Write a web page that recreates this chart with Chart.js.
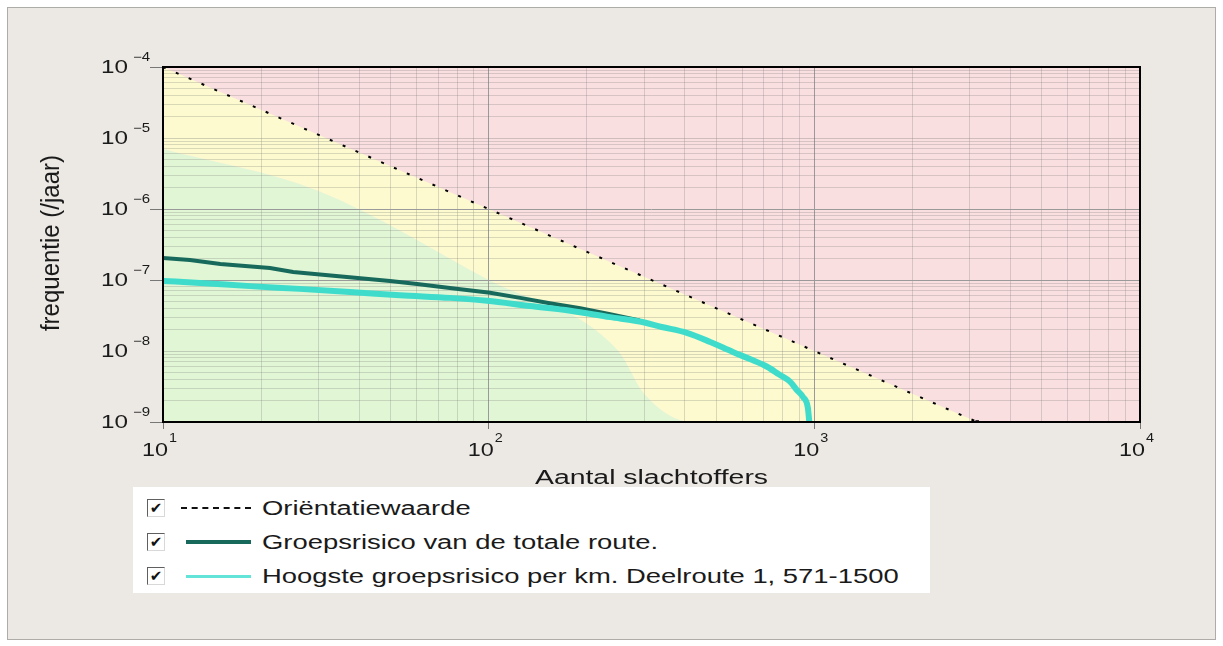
<!DOCTYPE html>
<html>
<head>
<meta charset="utf-8">
<script src="https://cdn.jsdelivr.net/npm/chart.js@4.4.1/dist/chart.umd.min.js"></script>
<style>
html,body{margin:0;padding:0;background:#fff;}
#wrap{position:relative;width:1223px;height:646px;overflow:hidden;background:#fff;}
#panel{position:absolute;left:7px;top:7px;width:1209px;height:633px;background:#ece9e4;border:1px solid #aeaca8;box-sizing:border-box;}
#c{position:absolute;left:0;top:0;}
#legend{position:absolute;left:133px;top:487px;width:797px;height:106px;background:#fff;font-family:"Liberation Sans",Arial,sans-serif;color:#1a1a1a;}
.row{position:absolute;left:0;width:100%;height:34px;}
.cb{position:absolute;left:14px;top:8px;width:18px;height:18px;box-sizing:border-box;border:1px solid;border-color:#5f5f5f #d8d8d8 #d8d8d8 #5f5f5f;background:#fff;font-family:"DejaVu Sans",sans-serif;font-size:15px;line-height:16px;text-align:center;color:#111;font-weight:bold;}
.dash{position:absolute;left:48px;top:16px;width:70px;height:0;border-top:2px dashed #111;}
.solid{position:absolute;left:53px;width:65px;}
.txt{position:absolute;left:129px;top:5px;font-size:20px;line-height:24px;white-space:nowrap;transform:scaleX(1.37);transform-origin:0 50%;}
</style>
</head>
<body>
<div id="wrap">
  <div id="panel"></div>
  <canvas id="c" width="1223" height="646"></canvas>
  <div id="legend"></div>
</div>
<script>
// ---------- data ----------
const xTickExps = ['1', '2', '3', '4'];
const yTickExps = ['-4', '-5', '-6', '-7', '-8', '-9'];
const xTitle = 'Aantal slachtoffers';
const yTitle = 'frequentie (/jaar)';
const legendLabels = ['Oriëntatiewaarde', 'Groepsrisico van de totale route.', 'Hoogste groepsrisico per km. Deelroute 1, 571-1500'];

// orientation value line (Oriëntatiewaarde)
const orientN = [10, 3162.3];
const orientF = [1e-4, 1e-9];
// zone boundaries
const redBoundN = [10, 3162.3, 10000];
const redBoundF = [1e-4, 1e-9, 1e-9];
const greenBoundN = [10, 30, 100, 250, 300, 420, 10000];
const greenBoundF = [7e-6, 1.8e-6, 1e-7, 1e-8, 2.5e-9, 1e-9, 1e-9];

// Groepsrisico van de totale route
const totalN = [10, 12.1, 15.0, 21.3, 25.1, 36.7, 49.8, 60.3, 76.0, 101, 125, 154, 191, 236, 291];
const totalF = [2.04e-7, 1.91e-7, 1.68e-7, 1.48e-7, 1.30e-7, 1.10e-7, 9.7e-8, 8.8e-8, 7.7e-8, 6.6e-8, 5.6e-8, 4.7e-8, 4.0e-8, 3.3e-8, 2.7e-8];

// Hoogste groepsrisico per km
const kmN = [10, 13.0, 18.5, 26.3, 37.5, 53.4, 76.0, 99, 134, 178, 236, 291, 340, 406, 479, 562, 634, 716, 778, 842, 885, 923, 955, 965];
const kmF = [9.7e-8, 9.1e-8, 8.2e-8, 7.5e-8, 6.8e-8, 6.1e-8, 5.6e-8, 5.1e-8, 4.3e-8, 3.7e-8, 3.0e-8, 2.6e-8, 2.18e-8, 1.8e-8, 1.34e-8, 9.7e-9, 7.7e-9, 6.0e-9, 4.7e-9, 3.7e-9, 2.8e-9, 2.25e-9, 1.6e-9, 1.0e-9];

const COL_RED = '#fadfe0', COL_YEL = '#fcface', COL_GRN = '#e0f6d5';
const COL_DARK = '#17695c', COL_CYAN = '#3fdccc';

const pts = (xs, ys) => xs.map((v, i) => ({x: v, y: ys[i]}));

function logTicks(e0, e1) {
  const t = [];
  for (let e = e0; e < e1; e++) {
    for (let m = 1; m <= 9; m++) t.push({value: m * Math.pow(10, e), major: m === 1});
  }
  t.push({value: Math.pow(10, e1), major: true});
  return t;
}
function decadeOf(v) {
  const l = Math.log10(v);
  return Math.abs(l - Math.round(l)) < 1e-6 ? Math.round(l) : null;
}

// ---------- legend (HTML) ----------
(function () {
  const lg = document.getElementById('legend');
  const tops = [4, 38, 72];
  legendLabels.forEach((lab, i) => {
    const r = document.createElement('div');
    r.className = 'row';
    r.style.top = tops[i] + 'px';
    let sample;
    if (i === 0) sample = '<div class="dash"></div>';
    else if (i === 1) sample = '<div class="solid" style="top:15px;height:4px;background:' + COL_DARK + '"></div>';
    else sample = '<div class="solid" style="top:16px;height:3px;background:#62e4d8"></div>';
    r.innerHTML = '<div class="cb">✔</div>' + sample + '<div class="txt"></div>';
    r.querySelector('.txt').textContent = lab;
    lg.appendChild(r);
  });
})();

// ---------- text / frame plugin ----------
function drawStretched(ctx, text, x, y, align, font, sx) {
  ctx.save();
  ctx.translate(x, y);
  ctx.scale(sx, 1);
  ctx.font = font;
  ctx.textAlign = align;
  ctx.textBaseline = 'middle';
  ctx.fillText(text, 0, 0);
  ctx.restore();
}
const FONT = '"Liberation Sans", Arial, sans-serif';
const decor = {
  id: 'decor',
  afterDraw(chart) {
    const {ctx, chartArea: a, scales: {x, y}} = chart;
    ctx.save();
    ctx.strokeStyle = '#000';
    ctx.lineWidth = 2;
    ctx.strokeRect(a.left, a.top, a.right - a.left, a.bottom - a.top);
    ctx.fillStyle = '#1a1a1a';
    yTickExps.forEach(e => {
      const py = y.getPixelForValue(Math.pow(10, Number(e)));
      drawStretched(ctx, '10', 128, py + 1, 'right', '18px ' + FONT, 1.35);
      drawStretched(ctx, e.replace('-', '−'), 133, py - 9, 'left', '12px ' + FONT, 1.25);
    });
    xTickExps.forEach(e => {
      const px = x.getPixelForValue(Math.pow(10, Number(e)));
      drawStretched(ctx, '10', px + 5, 451, 'right', '18px ' + FONT, 1.3);
      drawStretched(ctx, e, px + 6, 439, 'left', '12px ' + FONT, 1.2);
    });
    drawStretched(ctx, xTitle, (a.left + a.right) / 2, 478, 'center', '20px ' + FONT, 1.42);
    ctx.save();
    ctx.translate(52, 243);
    ctx.rotate(-Math.PI / 2);
    ctx.scale(1.2, 1.3);
    ctx.font = '20px ' + FONT;
    ctx.textAlign = 'center';
    ctx.textBaseline = 'middle';
    ctx.fillText(yTitle, 0, 0);
    ctx.restore();
    ctx.restore();
  }
};

// ---------- chart ----------
new Chart(document.getElementById('c'), {
  type: 'line',
  data: {
    datasets: [
      {label: legendLabels[2], data: pts(kmN, kmF), borderColor: COL_CYAN, borderWidth: 6, pointRadius: 0, fill: false, cubicInterpolationMode: 'monotone'},
      {label: legendLabels[1], data: pts(totalN, totalF), borderColor: COL_DARK, borderWidth: 4, pointRadius: 0, fill: false, tension: 0},
      {label: legendLabels[0], data: pts(orientN, orientF), borderColor: '#000', borderWidth: 2, borderDash: [3, 11], pointRadius: 2.5, pointStyle: 'rect', pointBackgroundColor: '#000', pointBorderWidth: 0, fill: false},
      {label: 'red', data: pts(redBoundN, redBoundF), borderColor: 'transparent', borderWidth: 0, pointRadius: 0, fill: 'end', backgroundColor: COL_RED},
      {label: 'yellow', data: pts(greenBoundN, greenBoundF), borderColor: 'transparent', borderWidth: 0, pointRadius: 0, fill: 'end', backgroundColor: COL_YEL, cubicInterpolationMode: 'monotone'},
      {label: 'green', data: pts(greenBoundN, greenBoundF), borderColor: 'transparent', borderWidth: 0, pointRadius: 0, fill: 'start', backgroundColor: COL_GRN, cubicInterpolationMode: 'monotone'}
    ]
  },
  options: {
    responsive: false,
    animation: false,
    devicePixelRatio: 1,
    layout: {padding: {left: 0, top: 67, right: 83, bottom: 212}},
    plugins: {legend: {display: false}, tooltip: {enabled: false}, filler: {drawTime: 'beforeDraw'}},
    scales: {
      x: {
        type: 'logarithmic', min: 10, max: 10000,
        afterBuildTicks: s => { s.ticks = logTicks(1, 4); },
        afterFit: s => { s.height = 12; },
        ticks: {display: false, autoSkip: false},
        border: {display: false},
        grid: {
          drawTicks: true, tickLength: 7,
          color: c => {
            if (!c.tick) return 'rgba(0,0,0,0)';
            const d = decadeOf(c.tick.value);
            if (d === null) return 'rgba(110,110,110,0.24)';
            return (d === 2 || d === 3) ? '#9a9a9a' : 'rgba(0,0,0,0)';
          },
          tickColor: c => (c.tick && decadeOf(c.tick.value) !== null) ? '#777' : 'rgba(0,0,0,0)'
        }
      },
      y: {
        type: 'logarithmic', min: 1e-9, max: 1e-4,
        afterBuildTicks: s => { s.ticks = logTicks(-9, -4); },
        afterFit: s => { s.width = 163; },
        ticks: {display: false, autoSkip: false},
        border: {display: false},
        grid: {
          drawTicks: true, tickLength: 13,
          color: c => {
            if (!c.tick) return 'rgba(0,0,0,0)';
            const d = decadeOf(c.tick.value);
            if (d === null) return 'rgba(110,110,110,0.24)';
            if (d === -6 || d === -7) return '#9a9a9a';
            if (d === -5 || d === -8) return 'rgba(110,110,110,0.3)';
            return 'rgba(0,0,0,0)';
          },
          tickColor: c => {
            if (!c.tick) return 'rgba(0,0,0,0)';
            const d = decadeOf(c.tick.value);
            return (d === -4 || d === -6 || d === -7 || d === -9) ? '#777' : 'rgba(0,0,0,0)';
          }
        }
      }
    }
  },
  plugins: [decor]
});
</script>
</body>
</html>
